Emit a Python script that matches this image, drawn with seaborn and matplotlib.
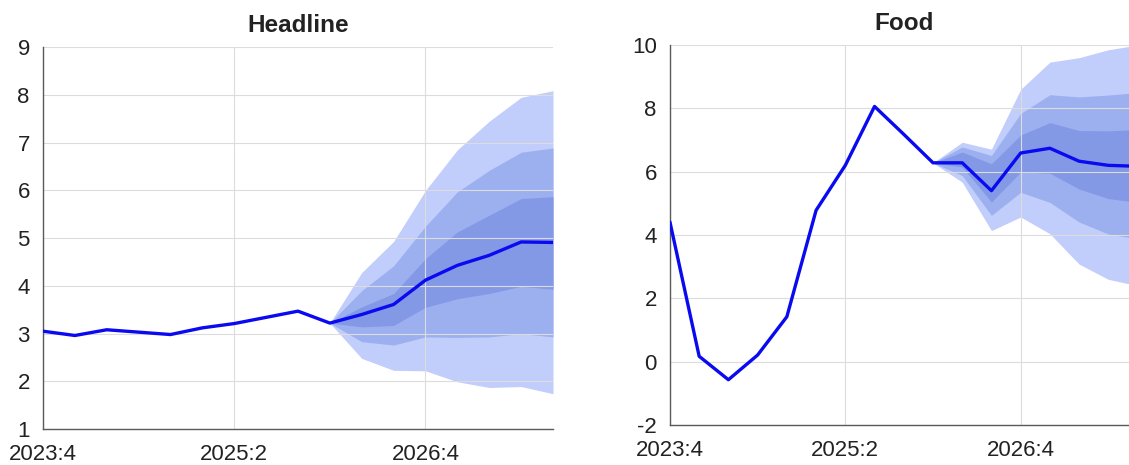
import numpy as np
import pandas as pd
import matplotlib
matplotlib.use("Agg")
import matplotlib.pyplot as plt
import seaborn as sns

# quarters on the x axis
quarters = ["2023:4", "2024:1", "2024:2", "2024:3", "2024:4", "2025:1", "2025:2",
            "2025:3", "2025:4", "2026:1", "2026:2", "2026:3", "2026:4",
            "2027:1", "2027:2", "2027:3", "2027:4"]
tick_labels = ["2023:4", "2025:2", "2026:4"]
fan_start = "2026:1"  # fan chart starts here

# Headline inflation: central path and fan bands
headline = [3.05, 2.96, 3.08, 3.03, 2.98, 3.12, 3.21, 3.34, 3.47,
            3.22, 3.40, 3.61, 4.12, 4.43, 4.64, 4.92, 4.91]
headline_outer_hi = [3.22, 4.28, 4.93, 6.00, 6.85, 7.45, 7.95, 8.09]
headline_mid_hi = [3.22, 3.90, 4.42, 5.25, 5.97, 6.42, 6.80, 6.89]
headline_inner_hi = [3.22, 3.56, 3.84, 4.57, 5.13, 5.48, 5.83, 5.87]
headline_inner_lo = [3.22, 3.14, 3.17, 3.55, 3.73, 3.84, 3.99, 3.93]
headline_mid_lo = [3.22, 2.83, 2.76, 2.93, 2.92, 2.93, 3.00, 2.93]
headline_outer_lo = [3.22, 2.48, 2.23, 2.22, 1.99, 1.87, 1.89, 1.74]

# Food inflation: central path and fan bands
food = [4.41, 0.17, -0.57, 0.21, 1.42, 4.78, 6.20, 8.06, 7.18,
        6.28, 6.28, 5.40, 6.59, 6.74, 6.33, 6.20, 6.17]
food_outer_hi = [6.28, 6.93, 6.71, 8.60, 9.46, 9.60, 9.85, 10.0]
food_mid_hi = [6.28, 6.78, 6.51, 7.84, 8.43, 8.36, 8.42, 8.50]
food_inner_hi = [6.28, 6.62, 6.25, 7.16, 7.55, 7.30, 7.29, 7.33]
food_inner_lo = [6.28, 6.15, 5.04, 5.99, 5.95, 5.45, 5.15, 5.03]
food_mid_lo = [6.28, 5.88, 4.62, 5.35, 5.03, 4.41, 4.03, 3.88]
food_outer_lo = [6.28, 5.67, 4.14, 4.57, 4.04, 3.08, 2.60, 2.40]

sns.set_style("white")
plt.rcParams['font.family'] = ['Liberation Sans', 'DejaVu Sans']
plt.rcParams['axes.unicode_minus'] = False

line_color = "#0a0af0"
band_colors = ["#c1cdfa", "#9cb0f0", "#8499e6"]

fig = plt.figure(figsize=(11.29, 4.65), dpi=100)
ax1 = fig.add_axes([0.0381, 0.0774, 0.4517, 0.8209])
ax2 = fig.add_axes([0.5934, 0.0860, 0.4142, 0.8172])


def draw_panel(ax, title, path, bands, ylim, yticks):
    x = np.arange(len(quarters))
    df = pd.DataFrame({"q": x, "value": path})
    fx = x[quarters.index(fan_start):]
    for (lo, hi), col in zip(bands, band_colors):
        ax.fill_between(fx, lo, hi, color=col, linewidth=0, zorder=1)
    sns.lineplot(data=df, x="q", y="value", ax=ax, color=line_color,
                 linewidth=2.4, zorder=3)
    ax.set_xlim(0, len(quarters) - 1)
    ax.set_ylim(*ylim)
    ax.set_yticks(yticks)
    ax.set_xticks([quarters.index(t) for t in tick_labels])
    ax.set_xticklabels(tick_labels)
    ax.set_xlabel("")
    ax.set_ylabel("")
    ax.set_axisbelow("line")
    ax.grid(True, color="#dcdcdc", linewidth=0.8)
    for s in ["top", "right"]:
        ax.spines[s].set_visible(False)
    for s in ["left", "bottom"]:
        ax.spines[s].set_color("#5a5a5a")
        ax.spines[s].set_linewidth(1.0)
    ax.tick_params(axis="both", labelsize=16, length=3.5, width=1,
                   color="#5a5a5a", labelcolor="#222222", direction="out")
    ax.tick_params(axis="y", pad=6)
    ax.tick_params(axis="x", pad=7)
    ax.set_title(title, fontsize=17.5, fontweight="bold", pad=11, color="#222222")


draw_panel(ax1, "Headline", headline,
           [(headline_outer_lo, headline_outer_hi),
            (headline_mid_lo, headline_mid_hi),
            (headline_inner_lo, headline_inner_hi)],
           (1, 9), range(1, 10))

draw_panel(ax2, "Food", food,
           [(food_outer_lo, food_outer_hi),
            (food_mid_lo, food_mid_hi),
            (food_inner_lo, food_inner_hi)],
           (-2, 10), range(-2, 11, 2))

fig.savefig("out.png", dpi=100)
